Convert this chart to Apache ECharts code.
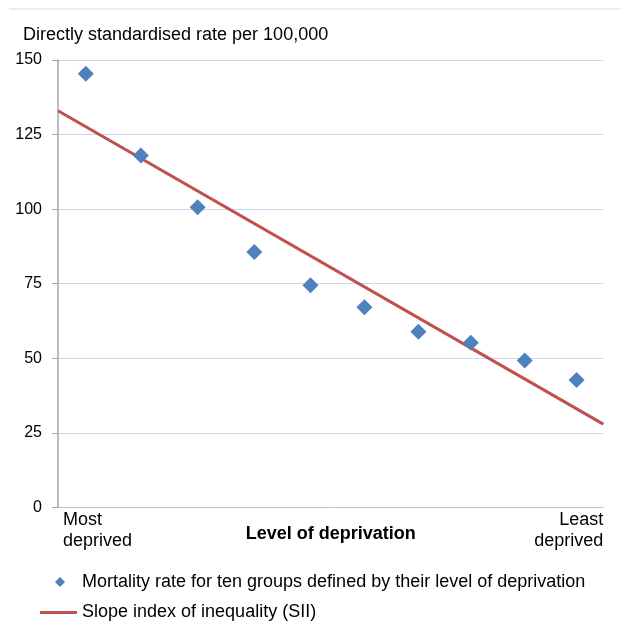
<!DOCTYPE html>
<html>
<head>
<meta charset="utf-8">
<script src="https://cdn.jsdelivr.net/npm/echarts@6/dist/echarts.min.js"></script>
<style>
html,body{margin:0;padding:0;background:#fff;}
#chart{width:620px;height:643px;}
</style>
</head>
<body>
<div id="chart"></div>
<script>
// ---- data ----
var groups = ['1','2','3','4','5','6','7','8','9','10'];
// relative rank (cumulative population midpoint) of each deprivation group, 0 = most deprived, 1 = least deprived
var groupRanks = [0.051, 0.152, 0.256, 0.360, 0.463, 0.562, 0.661, 0.757, 0.856, 0.951];
var mortalityRates = [145.4, 118.0, 100.6, 85.6, 74.5, 67.1, 58.9, 55.2, 49.2, 42.7];
var siiRanks = [0, 1];
var siiValues = [133.0, 27.9];
var xEndLabels = ['Most\ndeprived', 'Least\ndeprived'];
var yTicks = [0, 25, 50, 75, 100, 125, 150];
var pointName = 'Mortality rate for ten groups defined by their level of deprivation';
var lineName = 'Slope index of inequality (SII)';
var yTitle = 'Directly standardised rate per 100,000';
var xTitle = 'Level of deprivation';

var FONT = 'Liberation Sans, Arial, sans-serif';
var chart = echarts.init(document.getElementById('chart'), null, {renderer: 'canvas'});
var scatterData = groupRanks.map(function (r, i) { return [r, mortalityRates[i]]; });
var lineData = siiRanks.map(function (r, i) { return [r, siiValues[i]]; });
var option = {
  backgroundColor: '#fff',
  animation: false,
  textStyle: {fontFamily: FONT},
  title: {
    text: yTitle, left: 23, top: 26, padding: 0,
    textStyle: {fontSize: 18, fontWeight: 'normal', color: '#000', fontFamily: FONT}
  },
  graphic: [{
    type: 'line', shape: {x1: 9, y1: 9, x2: 620, y2: 9},
    style: {stroke: '#d9d9d9', lineWidth: 1}
  }],
  grid: {left: 58, right: 16.7, top: 60, bottom: 135.7, containLabel: false},
  legend: [{
    data: [{name: pointName, icon: 'diamond'}], orient: 'vertical', left: 55, top: 573, padding: 0,
    itemWidth: 10, itemHeight: 10,
    textStyle: {fontSize: 18, color: '#000', fontFamily: FONT, padding: [0, 0, 0, 12]}
  }, {
    data: [{name: lineName, icon: 'rect'}], orient: 'vertical', left: 40, top: 603.5, padding: 0,
    itemWidth: 37, itemHeight: 3,
    textStyle: {fontSize: 18, color: '#000', fontFamily: FONT}
  }],
  xAxis: {
    type: 'value', min: 0, max: 1, interval: 1,
    axisLine: {show: true, onZero: false, lineStyle: {color: '#bcc6d3', width: 1}},
    axisTick: {show: false}, splitLine: {show: false},
    name: xTitle, nameLocation: 'middle', nameGap: 18, nameMoveOverlap: false,
    nameTextStyle: {fontSize: 18, fontWeight: 'bold', color: '#000', fontFamily: FONT, verticalAlign: 'top'},
    axisLabel: {
      show: true, margin: 2, fontSize: 18, lineHeight: 21, color: '#000', fontFamily: FONT,
      verticalAlign: 'top', alignMinLabel: 'left', alignMaxLabel: 'right',
      formatter: function (v) {
        if (v === 0) return '{l|' + xEndLabels[0].split('\n').join('}\n{l|') + '}';
        if (v === 1) return xEndLabels[1];
        return '';
      },
      rich: {l: {fontSize: 18, lineHeight: 21, padding: [0, 0, 0, 5], color: '#000', fontFamily: FONT}}
    }
  },
  yAxis: {
    type: 'value', min: yTicks[0], max: yTicks[yTicks.length - 1], interval: 25,
    axisLine: {show: true, lineStyle: {color: '#a6a6a6', width: 1.5}},
    axisTick: {show: true, length: 6, lineStyle: {color: '#a6a6a6'}},
    axisLabel: {margin: 16, fontSize: 16, color: '#000', fontFamily: FONT},
    splitLine: {show: true, lineStyle: {color: '#c6d9f1', width: 1}}
  },
  series: [{
    name: pointName, type: 'scatter',
    data: scatterData, symbol: 'diamond', symbolSize: 16,
    itemStyle: {color: '#4f81bd', opacity: 1}, z: 3
  }, {
    name: lineName, type: 'line',
    data: lineData, symbol: 'none', showSymbol: false,
    lineStyle: {color: '#c0504d', width: 3}, itemStyle: {color: '#c0504d'}, z: 2
  }]
};
chart.setOption(option);
</script>
</body>
</html>
